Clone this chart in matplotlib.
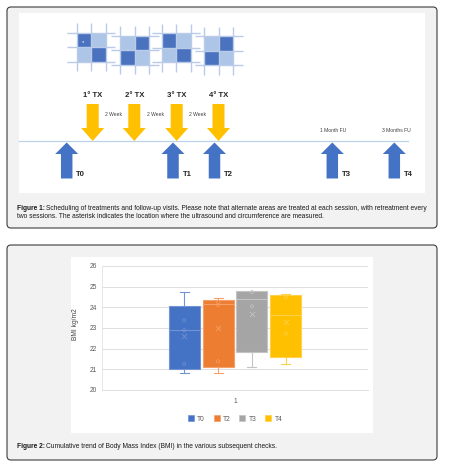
import numpy as np
import matplotlib
matplotlib.use("Agg")
import matplotlib.pyplot as plt
from matplotlib.patches import Rectangle, FancyBboxPatch, Patch

plt.rcParams['font.family'] = ['Liberation Sans', 'DejaVu Sans']

# --- figure 1: treatment / visit schedule (schematic x positions, px) ---
treat_labels = ['1° TX', '2° TX', '3° TX', '4° TX']
treat_x = [92.7, 134.3, 176.7, 218.5]
gap_label = '2 Week'
visit_labels = ['T0', 'T1', 'T2', 'T3', 'T4']
visit_x = [66.7, 173.0, 214.5, 332.3, 394.3]
fu_labels = ['1 Month FU', '3 Months FU']
fu_x = [333.0, 396.5]
# checkerboards: top-left corner of the 2x2 block, and which diagonal is dark
grid_x = [76.7, 120.0, 161.7, 204.3]
grid_y = [32.7, 35.7, 33.3, 36.0]
grid_dark_main = [True, False, True, False]

# --- figure 2: BMI box plot (Excel style) ---
groups = ['T0', 'T2', 'T3', 'T4']
q1 = [21.03, 21.10, 21.85, 21.60]
med = [22.89, 24.15, 24.39, 23.61]
q3 = [24.05, 24.34, 24.77, 24.58]
whislo = [20.81, 20.81, 21.10, 21.24]
whishi = [24.74, 24.43, 24.77, 24.63]
means = [22.61, 23.00, 23.68, 23.27]
inner_pts = [[23.37, 22.89, 21.27], [24.26, 24.11, 21.39],
             [24.74, 24.05], [24.48, 22.73]]

fills = ['#4472c4', '#ed7d31', '#a5a5a5', '#ffc000']
edges = ['#7394d4', '#f4a068', '#c4c4c4', '#ffd04a']

fig = plt.figure(figsize=(4.49, 4.71), dpi=100)
bg = fig.add_axes([0, 0, 1, 1])
bg.set_xlim(0, 449)
bg.set_ylim(471, 0)
bg.axis('off')

# panels
for (px, py, pw, ph), (ix, iy, iw, ih) in [((7, 7, 430, 221), (19, 13, 406, 180)),
                                           ((7, 245, 430, 215), (71, 257, 302, 176))]:
    bg.add_patch(FancyBboxPatch((px, py), pw, ph, boxstyle='round,pad=0,rounding_size=4',
                                facecolor='#f2f2f2', edgecolor='#3c3c3c', lw=0.8))
    bg.add_patch(Rectangle((ix, iy), iw, ih, facecolor='white', edgecolor='none'))

# checkerboards
cell = 14.5
ext = 9.5
for gx, gy, main in zip(grid_x, grid_y, grid_dark_main):
    for r in range(2):
        for c in range(2):
            dark = (r == c) == main
            bg.add_patch(Rectangle((gx + c * cell, gy + r * cell), cell, cell,
                                   facecolor='#4a72bf' if dark else '#adc5e7',
                                   edgecolor='none', zorder=2))
    for k in range(3):
        bg.plot([gx - ext, gx + 2 * cell + ext], [gy + k * cell] * 2,
                color='#b9cbe9', lw=1.0, zorder=3, solid_capstyle='butt')
        bg.plot([gx + k * cell] * 2, [gy - ext, gy + 2 * cell + ext],
                color='#b9cbe9', lw=1.0, zorder=3, solid_capstyle='butt')
bg.text(grid_x[0] + 6.5, grid_y[0] + 9.5, '*', color='white', fontsize=4.5,
        ha='center', va='center', zorder=4)

# timeline
line_y = 141
bg.plot([19, 408], [line_y, line_y], color='#bdd3ec', lw=0.9, zorder=2)

# treatment arrows (down)
for lab, x in zip(treat_labels, treat_x):
    bg.arrow(x, 104, 0, line_y - 104, width=12, head_width=23, head_length=13,
             length_includes_head=True, color='#ffc000', lw=0, zorder=4)
    bg.text(x, 95.5, lab, ha='center', va='center', fontsize=5.6,
            fontweight='bold', color='#262626')
for a, b in zip(treat_x[:-1], treat_x[1:]):
    bg.text((a + b) / 2, 115, gap_label, ha='center', va='center',
            fontsize=3.6, color='#404040')

# visit arrows (up)
for lab, x in zip(visit_labels, visit_x):
    bg.arrow(x, 178.5, 0, -36, width=11.5, head_width=23, head_length=11.5,
             length_includes_head=True, color='#4472c4', lw=0, zorder=4)
    bg.text(x + 9.5, 174, lab, ha='left', va='center', fontsize=5.6,
            fontweight='bold', color='#262626')
for lab, x in zip(fu_labels, fu_x):
    bg.text(x, 130.7, lab, ha='center', va='center', fontsize=3.6, color='#404040')

# captions with bold lead-in
renderer = fig.canvas.get_renderer()
cap_size = 4.8


def caption(x, y, bold, rest):
    t = bg.text(x, y, bold, ha='left', va='center', fontsize=cap_size,
                fontweight='bold', color='#1a1a1a')
    bb = t.get_window_extent(renderer=renderer)
    bg.text(bb.x1 + 0.8, y, rest, ha='left', va='center', fontsize=cap_size, color='#1a1a1a')


caption(17, 209, 'Figure 1:', 'Scheduling of treatments and follow-up visits. Please note that '
        'alternate areas are treated at each session, with retreatment every')
bg.text(17, 216.5, 'two sessions. The asterisk indicates the location where the ultrasound '
        'and circumference are measured.', ha='left', va='center', fontsize=cap_size,
        color='#1a1a1a')
caption(17, 446, 'Figure 2:', 'Cumulative trend of Body Mass Index (BMI) in the various '
        'subsequent checks.')

# box plot
ax = fig.add_axes([102 / 449, 1 - 390 / 471, 266 / 449, 124 / 471])
step = 0.1275
width = 0.1165
pos = 1 + (np.arange(len(groups)) - 1.5) * step
stats = [dict(q1=a, med=b, q3=c, whislo=d, whishi=e, label=g)
         for a, b, c, d, e, g in zip(q1, med, q3, whislo, whishi, groups)]
res = ax.bxp(stats, positions=pos, widths=width, patch_artist=True,
             showfliers=False, manage_ticks=False, capwidths=0.034)
for i in range(len(groups)):
    res['boxes'][i].set(facecolor=fills[i], edgecolor=edges[i], lw=0.8, zorder=3)
    res['medians'][i].set(color=edges[i], lw=0.8, zorder=4)
    for ln in res['whiskers'][2 * i:2 * i + 2] + res['caps'][2 * i:2 * i + 2]:
        ln.set(color=edges[i], lw=0.8, zorder=3)
    ax.scatter([pos[i]] * len(inner_pts[i]), inner_pts[i], s=5, marker='o',
               facecolors='none', edgecolors=edges[i], linewidths=0.5, zorder=5)
    ax.scatter([pos[i]], [means[i]], s=14, marker='x', color=edges[i],
               linewidths=0.6, zorder=5)

ax.set_xlim(0.5, 1.5)
ax.set_ylim(20, 26)
ax.set_yticks(range(20, 27))
ax.set_xticks([1])
ax.set_xticklabels(['1'])
ax.yaxis.grid(True, color='#d9d9d9', lw=0.6)
ax.set_axisbelow(True)
for s in ['top', 'right']:
    ax.spines[s].set_visible(False)
ax.spines['left'].set_color('#e3e3e3')
ax.spines['left'].set_linewidth(0.6)
ax.spines['bottom'].set_color('#d9d9d9')
ax.spines['bottom'].set_linewidth(0.6)
ax.tick_params(length=0, labelsize=4.8, labelcolor='#595959')
ax.tick_params(axis='y', pad=3.8)
ax.tick_params(axis='x', pad=6)
ax.set_ylabel('BMI kg/m2', fontsize=4.8, color='#404040')
ax.yaxis.set_label_coords(-0.087, 0.53)

handles = [Patch(facecolor=f, edgecolor=e, lw=0.5) for f, e in zip(fills, edges)]
fig.legend(handles, groups, loc='center', bbox_to_anchor=(235 / 449, 1 - 419 / 471),
           ncol=4, frameon=False, fontsize=4.8, handlelength=0.9, handleheight=0.9,
           handletextpad=0.5, columnspacing=1.3, labelcolor='#595959')

fig.savefig('out.png', dpi=100)
